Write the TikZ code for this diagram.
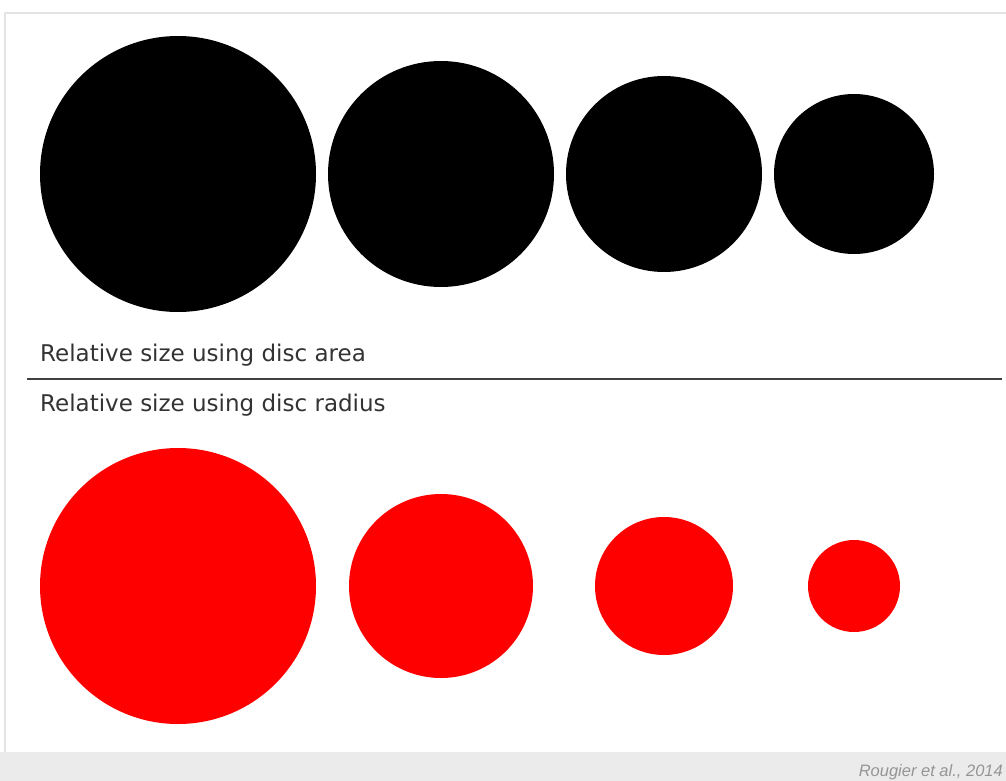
\documentclass[tikz,border=0pt]{standalone}
\usepackage{fontspec}
\setmainfont{DejaVu Sans}
\newfontfamily\citefont{Liberation Sans}
\usepackage{tikz}
\usetikzlibrary{positioning}

\definecolor{framegray}{HTML}{E4E4E4}
\definecolor{bargray}{HTML}{EBEBEB}
\definecolor{labelgray}{HTML}{333333}
\definecolor{rulegray}{HTML}{404040}
\definecolor{citegray}{HTML}{959595}
\definecolor{discred}{HTML}{FF0000}

\begin{document}
\begin{tikzpicture}[x=1pt, y=-1pt,
  caption/.style={anchor=base west, inner sep=0pt, text=labelgray, font=\fontsize{23}{27}\selectfont}]
\useasboundingbox (0,0) rectangle (1006,781);

% Frame and footer
\fill[white] (0,0) rectangle (1006,781);
\draw[framegray, line width=1.5pt] (5,752) -- (5,13) -- (1006,13);
\fill[bargray] (0,752) rectangle (1006,781);
\node[anchor=base east, inner sep=0pt, text=citegray, font=\citefont\itshape\fontsize{16.5}{19}\selectfont] (cite) at (1003,776) {Rougier et al., 2014};

% Discs scaled by area
\foreach \cx/\r in {178/138, 441/113, 664/98, 854/80}
  \fill[black] (\cx,174) circle[radius=\r];

% Discs scaled by radius
\foreach \cx/\r in {178/138, 441/92, 664/69, 854/46}
  \fill[discred] (\cx,586) circle[radius=\r];

% Labels
\node[caption] (areaLabel) at (40,361) {Relative size using disc area};
\draw[rulegray, line width=2.5pt] (27,379) -- (1002,379);
\node[caption] (radiusLabel) at (40,411) {Relative size using disc radius};
\end{tikzpicture}
\end{document}
